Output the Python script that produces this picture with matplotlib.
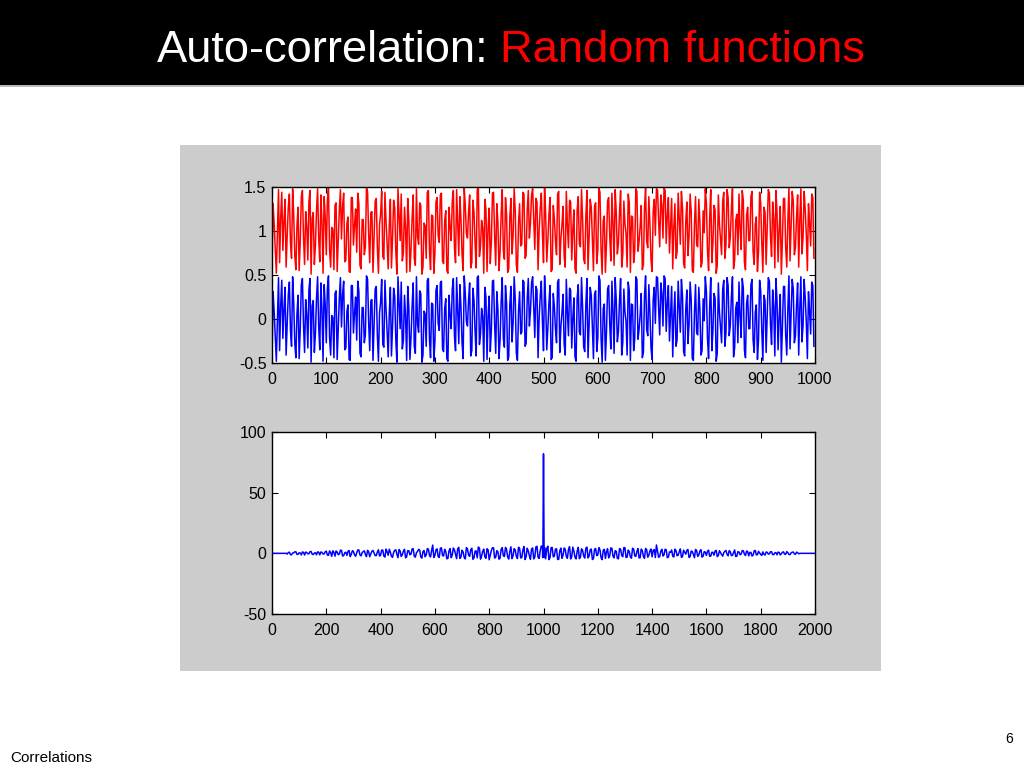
import numpy as np
import matplotlib.pyplot as plt
from matplotlib.patches import Rectangle

plt.rcParams['font.family'] = ['Liberation Sans', 'DejaVu Sans']

# random function (one sample every 2 steps)
step_sig = 2
blue = [-0.45, 0.31, 0.08, -0.19, -0.48, 0.02, 0.47, -0.36, 0.15, 0.44, -0.22, 0.11, 0.36, -0.41, -0.05, 0.27, 0.42, -0.13, -0.31, 0.48,
        0.18, -0.28, -0.44, 0.06, 0.27, -0.45, -0.12, 0.39, 0.46, -0.07, -0.38, 0.22, 0.05, -0.33, 0.33, 0.46, -0.49, 0.15, 0.21, -0.38,
        -0.16, 0.24, 0.48, -0.09, -0.35, 0.41, 0.11, -0.48, 0.39, 0.17, -0.27, 0.35, 0.49, -0.21, -0.41, 0.04, 0.02, -0.44, 0.29, 0.32,
        -0.46, -0.12, 0.24, 0.47, -0.09, 0.28, 0.43, -0.35, -0.33, 0.09, 0.16, -0.46, -0.47, 0.38, 0.38, -0.16, 0.07, 0.25, -0.24, 0.43,
        0.31, -0.39, -0.43, 0.13, 0.13, -0.27, -0.18, 0.49, 0.45, -0.04, -0.36, 0.21, 0.22, -0.47, -0.07, 0.34, 0.37, -0.18, -0.48, 0.07,
        0.19, 0.45, -0.29, -0.32, 0.44, 0.11, -0.14, -0.43, 0.06, 0.36, -0.42, -0.08, 0.35, 0.26, -0.23, -0.49, 0.48, 0.19, -0.11, 0.42,
        -0.34, -0.24, 0.27, 0.03, -0.47, 0.37, 0.12, -0.46, -0.21, 0.14, 0.41, -0.31, -0.39, 0.48, -0.06, -0.15, 0.32, 0.29, -0.49, -0.41,
        0.09, 0.06, -0.31, 0.44, 0.46, -0.23, -0.44, 0.18, 0.17, -0.48, -0.26, 0.33, 0.38, -0.05, -0.13, 0.41, 0.43, -0.34, -0.37, 0.12,
        0.23, -0.45, -0.48, 0.27, 0.04, -0.11, 0.34, 0.46, -0.19, -0.36, 0.47, 0.08, -0.28, 0.39, 0.14, -0.27, -0.45, 0.49, 0.29, -0.03,
        -0.08, 0.22, 0.41, -0.42, -0.36, 0.35, 0.21, -0.14, -0.42, 0.47, 0.49, -0.29, -0.17, 0.12, 0.03, -0.48, 0.36, 0.25, -0.46, 0.04,
        0.26, -0.37, -0.12, 0.43, 0.44, -0.06, -0.39, 0.31, 0.11, -0.45, -0.24, 0.19, 0.47, -0.22, -0.32, 0.38, 0.18, -0.47, -0.43, 0.16,
        0.37, -0.26, -0.05, 0.48, 0.22, -0.39, -0.47, 0.09, 0.31, -0.17, -0.15, 0.44, 0.42, -0.31, -0.28, 0.23, 0.46, -0.08, 0.09, 0.41,
        0.48, 0.13, -0.21, 0.37, 0.33, -0.44, 0.02, 0.26, 0.43, -0.02, -0.36, 0.49, 0.19, -0.35, -0.11, 0.18, 0.38, -0.46, -0.44, 0.29,
        0.14, -0.11, -0.27, 0.42, 0.45, -0.38, -0.09, 0.07, 0.28, -0.28, -0.41, 0.45, 0.07, -0.19, 0.35, 0.33, -0.33, 0.01, 0.24, -0.43,
        -0.48, 0.24, 0.39, -0.15, -0.18, 0.47, 0.13, -0.32, -0.37, 0.16, 0.46, -0.44, -0.06, 0.36, 0.27, -0.09, -0.45, 0.28, 0.32, -0.37,
        -0.22, 0.49, 0.44, -0.21, -0.49, 0.12, 0.17, -0.47, -0.14, 0.34, 0.38, -0.06, -0.34, 0.43, 0.09, -0.39, 0.47, 0.21, -0.26, -0.14,
        0.21, 0.46, -0.41, -0.27, 0.34, 0.08, -0.03, -0.41, 0.42, 0.32, -0.47, 0.17, 0.16, -0.36, -0.23, 0.48, 0.45, -0.23, -0.12, 0.05,
        0.29, -0.44, -0.38, 0.26, 0.49, -0.12, -0.19, 0.39, 0.07, -0.33, -0.46, 0.22, 0.36, -0.05, 0.48, 0.47, 0.12, -0.18, 0.41, 0.29,
        -0.08, 0.49, 0.46, -0.14, 0.18, 0.38, -0.25, 0.06, 0.37, -0.43, 0.04, 0.31, -0.31, -0.24, 0.43, 0.15, -0.15, 0.45, 0.26, -0.37,
        -0.42, 0.11, 0.33, -0.28, -0.06, 0.42, 0.22, -0.45, -0.47, 0.07, 0.39, -0.16, -0.18, 0.36, 0.11, -0.41, -0.36, 0.23, -0.02, 0.48,
        0.31, -0.22, -0.45, 0.14, 0.47, -0.36, -0.13, 0.29, 0.24, -0.48, -0.39, 0.41, 0.08, -0.09, -0.27, 0.34, 0.44, -0.31, -0.16, 0.47,
        0.38, -0.19, -0.07, 0.25, 0.48, -0.43, -0.33, 0.12, 0.19, -0.27, 0.42, 0.04, -0.21, 0.46, 0.35, -0.35, -0.44, 0.18, 0.27, -0.11,
        -0.11, 0.39, 0.45, -0.24, -0.38, 0.08, 0.16, -0.46, -0.23, 0.44, 0.32, -0.13, -0.47, 0.27, 0.21, -0.38, 0.03, 0.47, 0.43, -0.06,
        -0.29, 0.33, 0.14, -0.42, 0.46, 0.21, -0.35, 0.02, 0.28, -0.49, -0.09, 0.37, 0.37, -0.18, -0.41, 0.11, 0.49, -0.34, 0.06, 0.45,
        0.34, -0.27, -0.19, 0.16, 0.41, -0.41, 0.12, 0.48, -0.26, -0.07, 0.45, 0.24, -0.04, -0.45, 0.31, 0.09, -0.17, 0.42, 0.38, -0.31]
red_offset = 1.0  # red trace is the same function shifted up by 1

# auto-correlation, one value every 4 lags
step_acf = 4
acf = [0, 0, 0, 0, 0, 0, 0, 0, 0, 0, 0, 0, 0, 0,
       -0.6, 0.7, 0.9, -1.1, -1.2, 0.3, 0.4, 1.2, 1.3, -0.9, -0.8, 0.5, 0.2, -1.3, 1.1, 0.8, -1.4, 1.0,
       0.7, -0.4, -0.3, 1.4, 1.5, -0.7, -1.0, 0.2, 0.5, -1.2, 1.2, 0.9, -1.3, 1.1, 0.8, -0.6, -0.5, 1.3,
       1.8, -1.4, -1.6, 2.0, 0.6, -2.5, 2.1, 0.8, -2.3, 1.9, 1.1, -1.1, -0.7, 2.6, 2.4, -2.2, -1.9, 0.5, 0.9, -1.7,
       1.6, 2.3, -2.6, -0.9, 2.2, 1.5, -1.2, -2.4, 0.4, 2.8, 2.7, -1.3, -2.1, 0.6, 1.4, 2.1, -0.9, -2.7, 2.5, 1.2,
       -2.8, -0.4, 1.7, 2.4, 0.3, -1.9, -1.8, 1.0, 2.9, -2.2, -1.5, 2.7,
       2.6, -2.2, -3.1, 3.5, 1.2, -1.6, 3.4, 0.9, -2.4, -3.3, 0.8, 2.4, 2.9, -0.7, -3.6, 3.1, 1.9, -2.6, -1.1, 1.8,
       3.3, -3.7, -2.7, 2.2, 2.1, -1.2, -0.6, 3.6, 3.8, -2.4, -3.2, 0.6, 1.5, 3.3, 2.7, -3.0, -3.9, 1.4, 2.3, -2.8,
       -1.4, 3.9, 3.5, -1.7, -2.9, 2.5, 6.8, -3.4, -1.8, 2.9,
       3.7, -2.7, -3.4, 4.1, 4.6, -1.8, -2.2, 3.3, 1.6, -4.5, -4.1, 2.1, 3.9, -3.6, -1.3, 4.4, 2.8, -0.9, -4.4, 3.8,
       4.9, -4.2, -3.0, 2.6, 1.0, -3.4, -4.6, 4.7, 3.6, -1.5, -2.5, 3.0, 4.2, -4.9, -3.8, 1.8, 2.0, -3.7, 5.2, 4.3,
       -4.8, -2.3, 1.7, 3.5, -2.9, -4.1, 3.8, 2.8, -5.3, -1.6, 2.4, 4.6, 4.5, -3.9, -3.3, 2.2, 1.3, -4.8, -4.0, 3.4,
       4.7, -1.9, -2.6, 4.9, 3.2, -3.1, -4.7, 1.5, 5.4, -4.4, -1.9, 3.9, 2.6, -2.6, -4.3, 5.0, 4.1, -3.8, -3.5, 2.7,
       5.6, -5.1, -2.8, 4.2, 1.9, -2.0, -4.9, 3.6, 4.4, -4.6, -3.1, 5.3, 5.8, -3.3, -4.2, 2.4, 6.1, -5.4,
       6.5, 5.5,
       -4.5, 3.9, 5.9, -5.2, -3.6, 4.7, 4.8, -2.9, -2.3, 3.5, 3.7, -5.0, -5.0, 2.1, 4.3, -4.1, -1.6, 4.4, 3.4, -2.6,
       -4.1, 3.2, 5.5, -4.6, -2.7, 5.1, 1.8, -3.3, -4.6, 1.8, 4.9, -4.4, -3.2, 3.7, 2.5, -2.3, -3.9, 4.3, 5.1, -3.8,
       -2.0, 2.9, 3.6, -5.1, -4.4, 3.3, 4.0, -1.9, -1.4, 4.7, 2.9, -3.5, -5.2, 2.5, 3.3, -4.2, 1.1, 3.8, -3.7, -2.0,
       4.5, 4.1, -2.4, -3.7, 2.2, 1.7, -4.2, -4.5, 3.9, 3.4, -1.7, -2.8, 4.8, 4.6, -3.4, -3.2, 2.7, 1.4, -3.0, -4.0,
       4.2, 3.5, -2.1, -2.5, 1.5, 3.9, -3.8, -3.6, 3.5, 2.2, -2.6, -4.1, 4.0, 3.0, -3.2, -1.6, 2.1, 3.6,
       -2.9, 2.4, 3.1, -3.5, 6.9, 1.7, -3.3, -2.6, 1.8, 3.3, -2.2, -1.2, 3.4, 2.9, -3.6, -3.1, 1.2, 0.8, 2.8, -2.4,
       -3.0, 3.5, 2.3, -2.0, -1.5, 1.3, 3.6, -3.3, -2.7, 2.6, 1.0, -0.7, 2.5, 3.1, -3.4, -2.8, 1.9, 1.5, -0.9, -3.6,
       3.2, 2.2, -2.5, -1.4, 2.0, 3.0, -3.1, -2.3, 1.4, 0.9,
       -1.7, 1.6, 2.6, -2.4, -2.3, 0.9, 0.8, -1.5, 1.9, 2.5, -2.7, -1.8, 2.2, 0.6, -1.0, -2.3, 0.5, 1.7, 2.4, -0.8,
       -2.0, 2.2, 1.3, -1.9, -1.6, 0.5, 2.8, -2.6, -2.4, 1.4, 1.1, -1.2, -0.6, 2.3, 2.1, -0.7, -1.8, 1.9, 1.5, -2.1,
       0.7, 0.8, -2.2, -1.6, 2.0, 2.4, -1.3, -1.1, 1.6, 0.4, -0.9, -1.7,
       1.2, -0.9, -1.4, 1.1, 0.8, -0.6, -0.5, 1.3, 1.3, -1.0, -1.1, 0.4, 0.6, -1.2, 1.0, 0.7, -1.3, -0.3, 0.9, 1.2,
       -0.7, -0.8, 1.4, 0.6, -0.9, -1.1, 0.4, 0.9, 1.1, -0.5, -0.8, 1.0, 0.5, -0.4,
       0, 0, 0, 0, 0, 0, 0, 0, 0, 0, 0, 0, 0, 0]
# the central peak, lag by lag
peak_start = 996
peak = [4.8, -3.5, 6.2, 38, 82, 38, 6.2, -3.5, 4.8]

top_xticks = list(range(0, 1001, 100))
top_yticks = [-0.5, 0, 0.5, 1, 1.5]
top_ylabels = ['-0.5', '0', '0.5', '1', '1.5']
bot_xticks = list(range(0, 2001, 200))
bot_yticks = [-50, 0, 50, 100]
bot_ylabels = ['-50', '0', '50', '100']

W, H = 1024, 768
fig = plt.figure(figsize=(W / 100, H / 100), dpi=100)
fig.patch.set_facecolor('white')

# slide header and grey figure panel, kept behind the axes
fig.patches.append(Rectangle((0, 1 - 85 / H), 1, 85 / H, transform=fig.transFigure,
                             facecolor='black', edgecolor='none', zorder=-10))
fig.patches.append(Rectangle((0, 1 - 87 / H), 1, 2 / H, transform=fig.transFigure,
                             facecolor='#bbbbbb', edgecolor='none', zorder=-10))
fig.patches.append(Rectangle((180 / W, 1 - 671 / H), 701 / W, 526 / H,
                             transform=fig.transFigure, facecolor='#cccccc',
                             edgecolor='none', zorder=-10))

# title in two colours
t1 = fig.text(157 / W, 1 - 62 / H, 'Auto-correlation:', color='white',
              fontsize=32.6, va='baseline', ha='left')
r = fig.canvas.get_renderer()
bb = t1.get_window_extent(renderer=r)
fig.text((bb.x1 + 11) / W, 1 - 62 / H, 'Random functions', color='#ff0000',
         fontsize=32.6, va='baseline', ha='left')

fig.text(10 / W, 1 - 762 / H, 'Correlations', fontsize=11, color='black')
fig.text(1013 / W, 1 - 743 / H, '6', fontsize=10, color='black', ha='right')


def style(ax):
    ax.set_facecolor('white')
    ax.tick_params(direction='in', top=True, right=True, length=4,
                   labelsize=11.5, colors='black')
    ax.tick_params(axis='x', pad=6.5)
    ax.tick_params(axis='y', pad=4)
    for s in ax.spines.values():
        s.set_linewidth(1)
        s.set_color('black')


x_sig = np.arange(len(blue)) * step_sig
sig = np.array(blue)

ax1 = fig.add_axes([272 / W, 1 - 363 / H, 543 / W, 176 / H])
ax1.plot(x_sig, sig + red_offset, color='#ff0000', lw=1.1)
ax1.plot(x_sig, sig, color='#0000ff', lw=1.1)
ax1.set_xlim(0, 1000)
ax1.set_ylim(-0.5, 1.5)
ax1.set_xticks(top_xticks)
ax1.set_yticks(top_yticks)
ax1.set_yticklabels(top_ylabels)
style(ax1)

lag = np.arange(len(acf)) * step_acf
acf = np.array(acf, dtype=float)
peak_lag = peak_start + np.arange(len(peak))
keep = (lag < peak_lag[0]) | (lag > peak_lag[-1])
x_acf = np.concatenate([lag[keep], peak_lag])
y_acf = np.concatenate([acf[keep], peak])
order = np.argsort(x_acf)

ax2 = fig.add_axes([272 / W, 1 - 614 / H, 543 / W, 182 / H])
ax2.plot(x_acf[order], y_acf[order], color='#0000ff', lw=1.1)
ax2.set_xlim(0, 2000)
ax2.set_ylim(-50, 100)
ax2.set_xticks(bot_xticks)
ax2.set_yticks(bot_yticks)
ax2.set_yticklabels(bot_ylabels)
style(ax2)

fig.savefig('out.png', dpi=100)
